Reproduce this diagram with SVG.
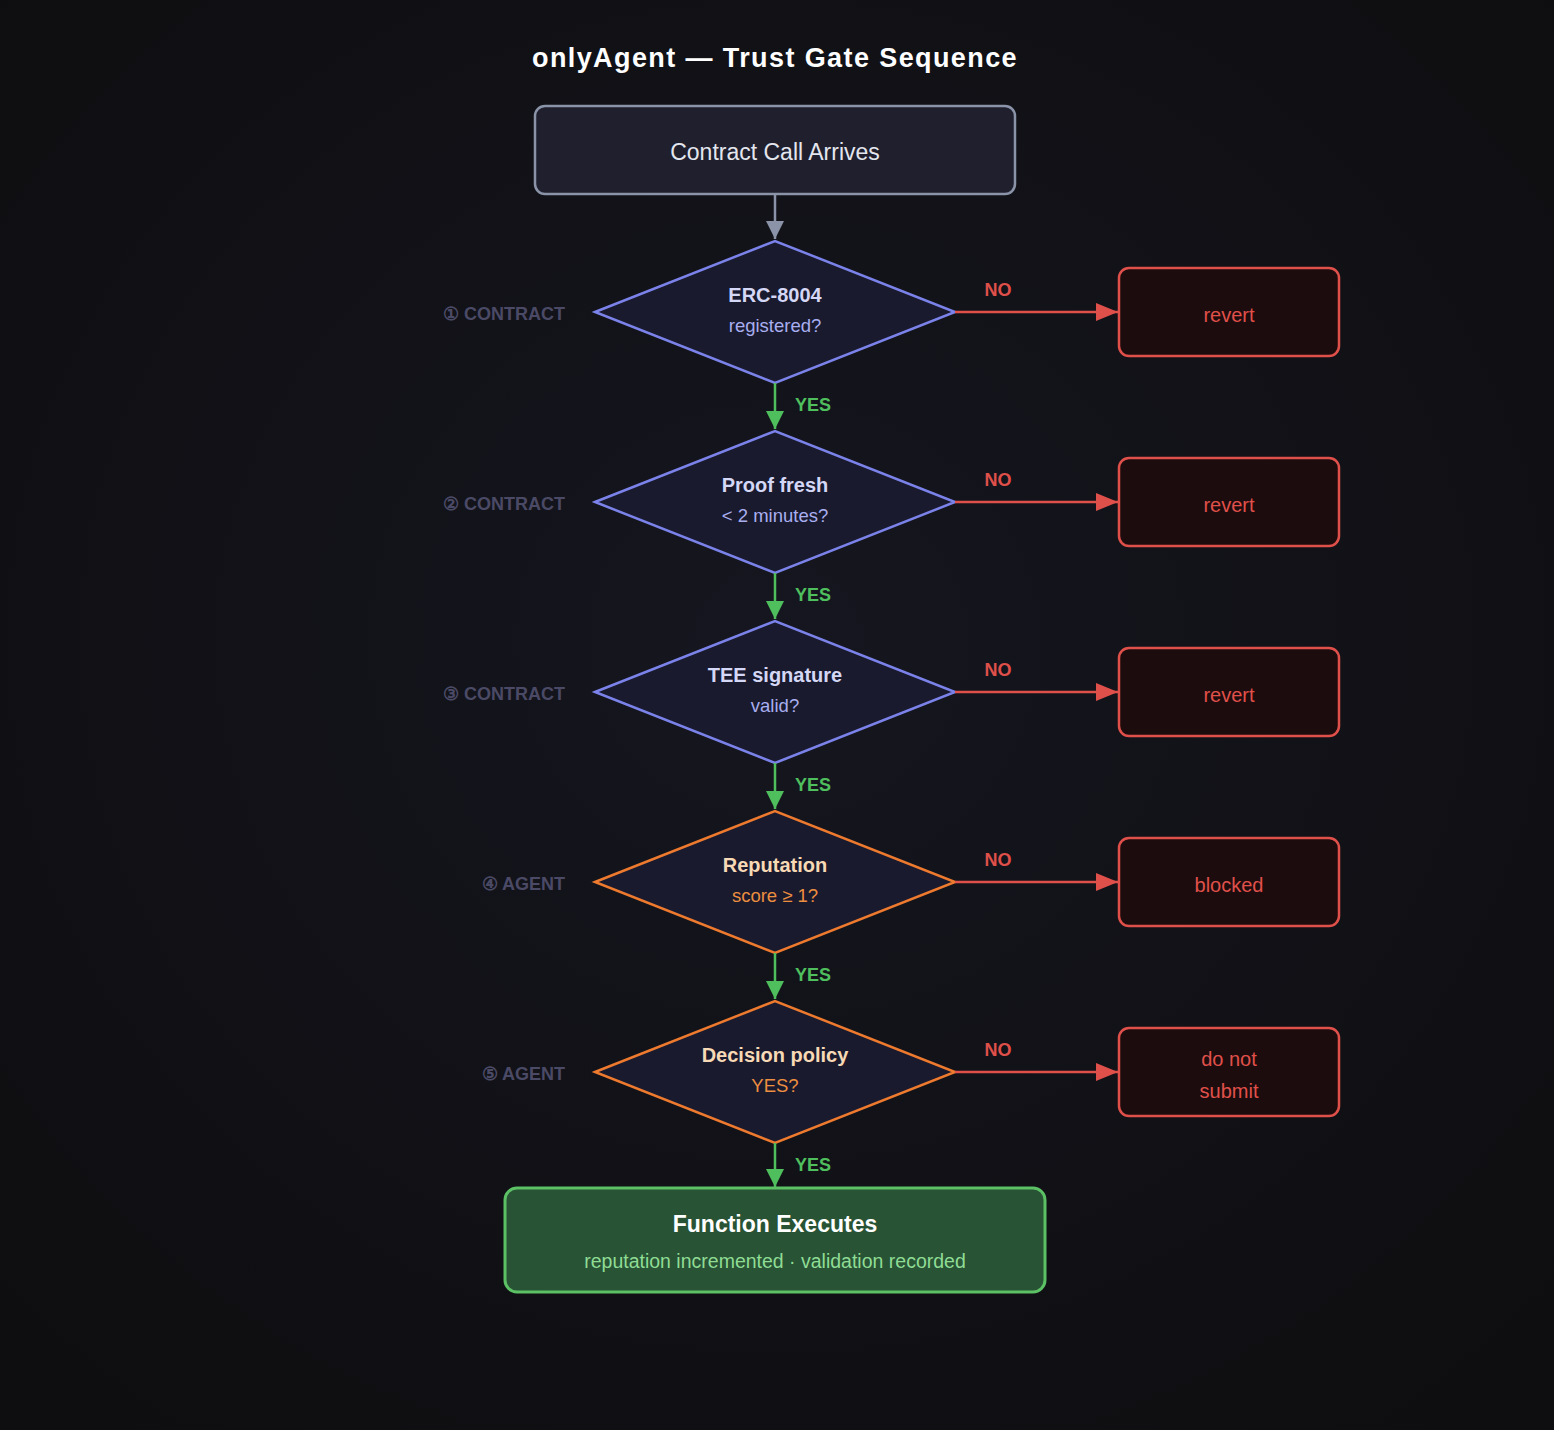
<svg xmlns="http://www.w3.org/2000/svg" width="1554" height="1430" viewBox="0 0 1554 1430">
<defs>
<radialGradient id="bg" cx="50%" cy="45%" r="70%"><stop offset="0" stop-color="#15161f"/><stop offset="1" stop-color="#0e0e10"/></radialGradient>
<marker id="ar" viewBox="0 0 10 10" refX="10" refY="5" markerWidth="22" markerHeight="18" markerUnits="userSpaceOnUse" orient="auto" preserveAspectRatio="none"><path d="M0,0L10,5L0,10z" fill="#e0504a"/></marker>
<marker id="agr" viewBox="0 0 10 10" refX="10" refY="5" markerWidth="18" markerHeight="18" markerUnits="userSpaceOnUse" orient="auto"><path d="M0,0L10,5L0,10z" fill="#8a93a8"/></marker>
<marker id="agg" viewBox="0 0 10 10" refX="10" refY="5" markerWidth="18" markerHeight="18" markerUnits="userSpaceOnUse" orient="auto"><path d="M0,0L10,5L0,10z" fill="#4fbf5e"/></marker>
</defs>
<style>
text{font-family:"Liberation Sans",Arial,sans-serif;text-anchor:middle}
.dp{fill:#191a2e;stroke:#7b83ea;stroke-width:2.5}
.da{fill:#191a2e;stroke:#ed7a2e;stroke-width:2.5}
.rb{fill:#1c0c0d;stroke:#e0504a;stroke-width:2.5}
.t1p{fill:#d4d7f5;font-weight:bold;font-size:20px}
.t2p{fill:#a8aef0;font-size:18.5px}
.t1a{fill:#f7d9b5;font-weight:bold;font-size:20px}
.t2a{fill:#ed8e40;font-size:18.5px}
.rt{fill:#e0504a;font-size:20px}
.lab{fill:#4b4a66;font-weight:bold;font-size:18px;text-anchor:end}
.no{fill:#e0504a;font-weight:bold;font-size:18px}
.yes{fill:#4fbf5e;font-weight:bold;font-size:18px;text-anchor:start}
.red{stroke:#e0504a;stroke-width:2.5;fill:none}
.grn{stroke:#4fbf5e;stroke-width:2.5;fill:none}
</style>
<rect width="1554" height="1430" fill="url(#bg)"/>
<text x="775" y="67" fill="#ffffff" font-weight="bold" font-size="27" style="letter-spacing:1.4px">onlyAgent — Trust Gate Sequence</text>
<g id="start"><rect x="535" y="106" width="480" height="88" rx="10" fill="#1f1f2e" stroke="#8a93a8" stroke-width="2.5"/><text x="775" y="160" fill="#e4e6ee" font-size="23">Contract Call Arrives</text></g>
<g id="d1"><polygon class="dp" points="595,312 775,241 955,312 775,383"/><text class="t1p" x="775" y="302">ERC-8004</text><text class="t2p" x="775" y="332">registered?</text><text class="lab" x="565" y="320">① CONTRACT</text></g>
<g id="d2"><polygon class="dp" points="595,502 775,431 955,502 775,573"/><text class="t1p" x="775" y="492">Proof fresh</text><text class="t2p" x="775" y="522">&lt; 2 minutes?</text><text class="lab" x="565" y="510">② CONTRACT</text></g>
<g id="d3"><polygon class="dp" points="595,692 775,621 955,692 775,763"/><text class="t1p" x="775" y="682">TEE signature</text><text class="t2p" x="775" y="712">valid?</text><text class="lab" x="565" y="700">③ CONTRACT</text></g>
<g id="d4"><polygon class="da" points="595,882 775,811 955,882 775,953"/><text class="t1a" x="775" y="872">Reputation</text><text class="t2a" x="775" y="902">score ≥ 1?</text><text class="lab" x="565" y="890">④ AGENT</text></g>
<g id="d5"><polygon class="da" points="595,1072 775,1001 955,1072 775,1143"/><text class="t1a" x="775" y="1062">Decision policy</text><text class="t2a" x="775" y="1092">YES?</text><text class="lab" x="565" y="1080">⑤ AGENT</text></g>
<g id="r1"><rect class="rb" x="1119" y="268" width="220" height="88" rx="10"/><text class="rt" x="1229" y="322">revert</text></g>
<g id="r2"><rect class="rb" x="1119" y="458" width="220" height="88" rx="10"/><text class="rt" x="1229" y="512">revert</text></g>
<g id="r3"><rect class="rb" x="1119" y="648" width="220" height="88" rx="10"/><text class="rt" x="1229" y="702">revert</text></g>
<g id="r4"><rect class="rb" x="1119" y="838" width="220" height="88" rx="10"/><text class="rt" x="1229" y="892">blocked</text></g>
<g id="r5"><rect class="rb" x="1119" y="1028" width="220" height="88" rx="10"/><text class="rt" x="1229" y="1066">do not</text><text class="rt" x="1229" y="1098">submit</text></g>
<g id="end"><rect x="505" y="1188" width="540" height="104" rx="12" fill="#285334" stroke="#5cc065" stroke-width="3"/><text x="775" y="1232" fill="#ffffff" font-weight="bold" font-size="23">Function Executes</text><text x="775" y="1268" fill="#8fdc95" font-size="19.5">reputation incremented · validation recorded</text></g>
<g id="connectors">
<path d="M775,194V239" stroke="#8a93a8" stroke-width="2.5" marker-end="url(#agr)"/>
<path class="grn" d="M775,383V429" marker-end="url(#agg)"/>
<path class="grn" d="M775,573V619" marker-end="url(#agg)"/>
<path class="grn" d="M775,763V809" marker-end="url(#agg)"/>
<path class="grn" d="M775,953V999" marker-end="url(#agg)"/>
<path class="grn" d="M775,1143V1187" marker-end="url(#agg)"/>
<path class="red" d="M955,312H1118" marker-end="url(#ar)"/>
<path class="red" d="M955,502H1118" marker-end="url(#ar)"/>
<path class="red" d="M955,692H1118" marker-end="url(#ar)"/>
<path class="red" d="M955,882H1118" marker-end="url(#ar)"/>
<path class="red" d="M955,1072H1118" marker-end="url(#ar)"/>
<text class="no" x="998" y="296">NO</text><text class="no" x="998" y="486">NO</text><text class="no" x="998" y="676">NO</text><text class="no" x="998" y="866">NO</text><text class="no" x="998" y="1056">NO</text>
<text class="yes" x="795" y="411">YES</text><text class="yes" x="795" y="601">YES</text><text class="yes" x="795" y="791">YES</text><text class="yes" x="795" y="981">YES</text><text class="yes" x="795" y="1171">YES</text>
</g>
</svg>
